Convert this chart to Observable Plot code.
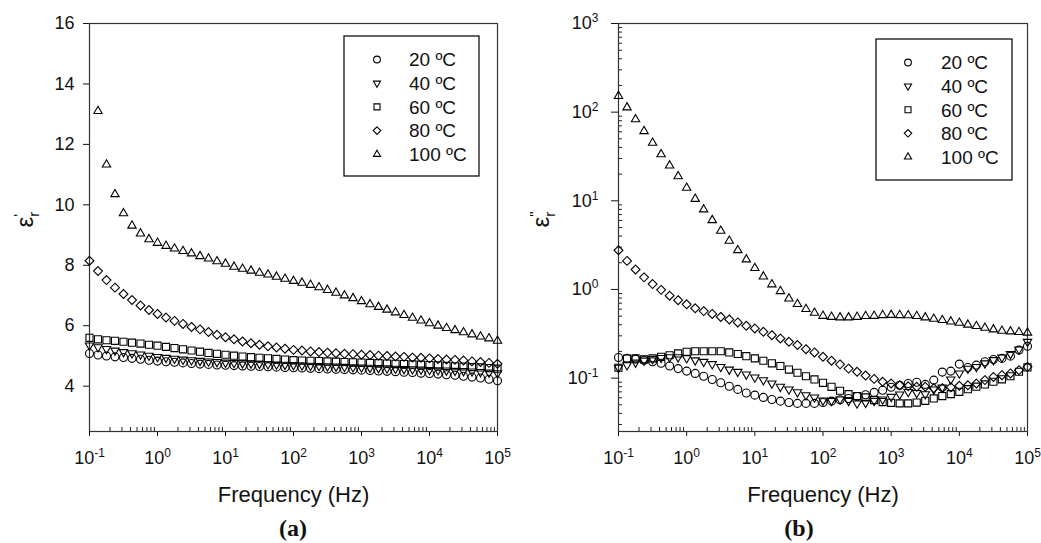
<!DOCTYPE html>
<html><head><meta charset="utf-8">
<script src="https://cdn.jsdelivr.net/npm/d3@7"></script>
<script src="https://cdn.jsdelivr.net/npm/@observablehq/plot@0.6"></script>
<style>
body{margin:0;background:#fff;}
#wrap{position:relative;width:1041px;height:543px;overflow:hidden;background:#fff;}
.panel{position:absolute;top:0;}
.panel svg{overflow:visible;}
.cap{position:absolute;font-family:"Liberation Serif","DejaVu Serif",serif;font-weight:bold;font-size:24px;line-height:1;transform:translateX(-50%);color:#111;}
</style></head><body>
<div id="wrap">
  <div id="pa" class="panel" style="left:0"></div>
  <div id="pb" class="panel" style="left:520px"></div>
  <div class="cap" style="left:293px;top:516px">(a)</div>
  <div class="cap" style="left:799px;top:516px">(b)</div>
</div>
<script>
// ---------- data ----------
const frequency = [0.1, 0.1334, 0.1778, 0.2371, 0.3162, 0.4217, 0.5623, 0.7499,
  1, 1.334, 1.778, 2.371, 3.162, 4.217, 5.623, 7.499,
  10, 13.34, 17.78, 23.71, 31.62, 42.17, 56.23, 74.99,
  100, 133.4, 177.8, 237.1, 316.2, 421.7, 562.3, 749.9,
  1000, 1334, 1778, 2371, 3162, 4217, 5623, 7499,
  10000, 13340, 17780, 23710, 31620, 42170, 56230, 74990, 100000];

const temperatures = ["20 ºC", "40 ºC", "60 ºC", "80 ºC", "100 ºC"];

// (a) real permittivity
const epsReal20 = [5.08, 5.03, 5.00, 4.97, 4.95, 4.92, 4.89, 4.86, 4.83, 4.81, 4.79, 4.77, 4.75, 4.73, 4.72, 4.70,
  4.69, 4.68, 4.67, 4.66, 4.65, 4.64, 4.63, 4.62, 4.61, 4.60, 4.59, 4.58, 4.57, 4.56, 4.55, 4.54,
  4.53, 4.52, 4.50, 4.49, 4.48, 4.46, 4.45, 4.43, 4.42, 4.40, 4.38, 4.36, 4.33, 4.30, 4.27, 4.23, 4.18];
const epsReal40 = [5.35, 5.29, 5.23, 5.18, 5.13, 5.09, 5.05, 5.01, 4.97, 4.94, 4.91, 4.88, 4.86, 4.84, 4.82, 4.80,
  4.78, 4.77, 4.76, 4.75, 4.74, 4.73, 4.72, 4.71, 4.70, 4.69, 4.68, 4.67, 4.66, 4.65, 4.64, 4.63,
  4.62, 4.61, 4.60, 4.59, 4.58, 4.57, 4.56, 4.55, 4.54, 4.53, 4.52, 4.51, 4.50, 4.49, 4.47, 4.45, 4.43];
const epsReal60 = [5.60, 5.55, 5.52, 5.50, 5.47, 5.44, 5.41, 5.37, 5.34, 5.30, 5.26, 5.22, 5.18, 5.14, 5.10, 5.07,
  5.04, 5.01, 4.98, 4.96, 4.94, 4.92, 4.90, 4.88, 4.86, 4.85, 4.84, 4.83, 4.82, 4.81, 4.80, 4.79,
  4.78, 4.77, 4.76, 4.75, 4.74, 4.73, 4.72, 4.71, 4.70, 4.69, 4.67, 4.66, 4.65, 4.63, 4.62, 4.60, 4.58];
const epsReal80 = [8.15, 7.81, 7.51, 7.26, 7.05, 6.85, 6.67, 6.52, 6.39, 6.27, 6.16, 6.06, 5.96, 5.88, 5.79, 5.70,
  5.62, 5.55, 5.48, 5.42, 5.37, 5.32, 5.28, 5.24, 5.20, 5.18, 5.15, 5.13, 5.11, 5.09, 5.07, 5.06,
  5.04, 5.03, 5.01, 5.00, 4.98, 4.97, 4.95, 4.94, 4.92, 4.90, 4.88, 4.87, 4.85, 4.82, 4.80, 4.77, 4.74];
const epsReal100 = [null, 13.1, 11.33, 10.35, 9.72, 9.31, 9.05, 8.86, 8.74, 8.64, 8.55, 8.47, 8.39, 8.30, 8.22, 8.13,
  8.05, 7.95, 7.88, 7.82, 7.75, 7.69, 7.62, 7.55, 7.48, 7.42, 7.35, 7.27, 7.18, 7.09, 7.00, 6.91,
  6.81, 6.71, 6.62, 6.53, 6.44, 6.35, 6.26, 6.17, 6.08, 6.00, 5.92, 5.85, 5.78, 5.71, 5.64, 5.58, 5.50];

// (b) imaginary permittivity
const epsImag20 = [0.171, 0.167, 0.164, 0.159, 0.153, 0.147, 0.137, 0.128, 0.120, 0.113, 0.105, 0.0966, 0.0886, 0.081, 0.0746, 0.068,
  0.0643, 0.0606, 0.0575, 0.055, 0.053, 0.0519, 0.0519, 0.0519, 0.053, 0.055, 0.057, 0.059, 0.062, 0.065, 0.069, 0.073,
  0.079, 0.083, 0.087, 0.090, 0.085, 0.095, 0.117, 0.120, 0.144, 0.132, 0.140, 0.153, 0.162, 0.167, 0.177, 0.207, 0.229];
const epsImag40 = [0.131, 0.140, 0.150, 0.158, 0.164, 0.169, 0.172, 0.172, 0.168, 0.159, 0.153, 0.144, 0.134, 0.125, 0.118, 0.110,
  0.102, 0.095, 0.087, 0.080, 0.0746, 0.0695, 0.0643, 0.0606, 0.056, 0.0555, 0.0575, 0.0555, 0.0519, 0.0527, 0.0555, 0.0575,
  0.0615, 0.0655, 0.070, 0.068, 0.066, 0.0746, 0.0786, 0.0966, 0.113, 0.128, 0.134, 0.147, 0.160, 0.171, 0.187, 0.211, 0.257];
const epsImag60 = [0.131, 0.166, 0.167, 0.163, 0.167, 0.174, 0.181, 0.190, 0.198, 0.201, 0.201, 0.201, 0.201, 0.195, 0.187, 0.177,
  0.167, 0.157, 0.147, 0.137, 0.125, 0.115, 0.105, 0.0966, 0.0886, 0.0798, 0.072, 0.066, 0.0627, 0.0606, 0.0565, 0.0537,
  0.0527, 0.0519, 0.0519, 0.053, 0.0555, 0.059, 0.0627, 0.066, 0.070, 0.075, 0.080, 0.085, 0.091, 0.097, 0.105, 0.118, 0.132];
const epsImag80 = [2.77, 2.10, 1.68, 1.37, 1.15, 0.99, 0.85, 0.757, 0.68, 0.613, 0.57, 0.53, 0.49, 0.459, 0.425, 0.389,
  0.363, 0.333, 0.305, 0.28, 0.257, 0.236, 0.212, 0.195, 0.174, 0.157, 0.143, 0.128, 0.118, 0.107, 0.098, 0.091,
  0.087, 0.083, 0.081, 0.080, 0.080, 0.077, 0.077, 0.079, 0.082, 0.083, 0.087, 0.095, 0.103, 0.108, 0.113, 0.123, 0.134];
const epsImag100 = [152, 113, 83, 61, 45, 33.5, 25, 18.9, 14.0, 10.5, 7.98, 6.04, 4.58, 3.53, 2.77, 2.18,
  1.74, 1.40, 1.14, 0.957, 0.79, 0.683, 0.60, 0.545, 0.503, 0.49, 0.483, 0.483, 0.49, 0.50, 0.503, 0.513,
  0.516, 0.513, 0.51, 0.50, 0.483, 0.466, 0.451, 0.435, 0.42, 0.40, 0.386, 0.369, 0.354, 0.341, 0.336, 0.33, 0.325];

const yTicksA = [4, 6, 8, 10, 12, 14, 16];
const xTicks = [0.1, 1, 10, 100, 1000, 10000, 100000];
const yTicksB = [0.1, 1, 10, 100, 1000];

// ---------- symbols ----------
const triDown = {draw(ctx, size) {
  const s = Math.sqrt(size) * 0.6824, t = s / 2, u = s * Math.sqrt(3) / 2;
  ctx.moveTo(0, s); ctx.lineTo(u, -t); ctx.lineTo(-u, -t); ctx.closePath();
}};
const symbols = [d3.symbolCircle, triDown, d3.symbolSquare, d3.symbolDiamond2, d3.symbolTriangle2];

const ns = "http://www.w3.org/2000/svg";
const fmtPow = d => "10^" + Math.round(Math.log10(d));

function rows(arr) {
  return frequency.map((f, i) => ({f, v: arr[i]})).filter(d => d.v != null);
}

function minorLog(lo, hi) {
  const out = [];
  for (let e = lo; e <= hi; e++) for (let m = 2; m < 10; m++) out.push(+(m * Math.pow(10, e)).toPrecision(6));
  return out;
}

function postProcess(svg, yLabel, legend) {
  svg.querySelectorAll("text").forEach(t => {
    const s = t.textContent;
    const m = /^10\^(-?\d+)$/.exec(s);
    if (m) {
      t.textContent = "";
      const a = document.createElementNS(ns, "tspan"); a.textContent = "10"; t.appendChild(a);
      const b = document.createElementNS(ns, "tspan"); b.textContent = m[1];
      b.setAttribute("dy", "-7"); b.setAttribute("font-size", "12"); t.appendChild(b);
    } else if (s === yLabel) {
      t.textContent = "";
      const a = document.createElementNS(ns, "tspan"); a.textContent = "ε"; t.appendChild(a);
      const b = document.createElementNS(ns, "tspan"); b.textContent = "r";
      b.setAttribute("dy", "6"); b.setAttribute("font-size", "15"); t.appendChild(b);
      const c = document.createElementNS(ns, "tspan"); c.textContent = yLabel.slice(2);
      c.setAttribute("dy", "-15"); c.setAttribute("dx", "-5"); c.setAttribute("font-size", "15"); t.appendChild(c);
    }
  });
  // legend box
  const g = d3.select(svg).append("g").attr("text-anchor", "start");
  g.append("rect").attr("x", legend.x).attr("y", legend.y).attr("width", legend.w).attr("height", legend.h)
    .attr("fill", "#fff").attr("stroke", "#111").attr("stroke-width", 1.3);
  temperatures.forEach((t, i) => {
    const cy = legend.row0 + i * legend.dy;
    g.append("path").attr("d", d3.symbol(symbols[i], 36)())
      .attr("transform", `translate(${legend.sx},${cy})`)
      .attr("fill", "none").attr("stroke", "#000").attr("stroke-width", 1.1);
    g.append("text").attr("x", legend.tx).attr("y", cy).attr("dy", "0.36em")
      .attr("text-anchor", "start").attr("font-size", 19).attr("fill", "#111").text(t);
  });
}

const style = {fontFamily: "'Liberation Sans', Arial, sans-serif", fontSize: "18px", color: "#111", background: "#fff", overflow: "visible"};
const dotOpts = {x: "f", y: "v", r: 4, fill: "none", stroke: "#000", strokeWidth: 1.1};

// ---------- panel (a) ----------
{
  const W = 520, H = 510, mt = 23, mb = 79, ml = 89, mr = 23;
  const innerH = H - mt - mb;
  const series = [epsReal20, epsReal40, epsReal60, epsReal80, epsReal100];
  const svg = Plot.plot({
    width: W, height: H, marginTop: mt, marginBottom: mb, marginLeft: ml, marginRight: mr,
    style,
    x: {type: "log", domain: [0.1, 1e5]},
    y: {domain: [2.5, 16]},
    marks: [
      Plot.tickX(minorLog(-1, 4), {x: d => d, insetTop: innerH - 4, stroke: "#222"}),
      Plot.axisX(xTicks, {tickSize: 5, tickPadding: 15, tickFormat: fmtPow, label: null}),
      Plot.axisY(yTicksA, {tickSize: 6, tickPadding: 9, label: null}),
      Plot.frame({stroke: "#333", strokeWidth: 1.2}),
      ...series.map((s, i) => Plot.dot(rows(s), {...dotOpts, symbol: symbols[i]})),
      Plot.text(["Frequency (Hz)"], {text: d => d, frameAnchor: "bottom", lineAnchor: "top", dy: 55, fontSize: 22, fill: "#111"}),
      Plot.text(["εr'"], {text: d => d, frameAnchor: "left", rotate: -90, dx: -64, fontSize: 24, fill: "#111"})
    ]
  });
  document.getElementById("pa").appendChild(svg);
  postProcess(svg, "εr'", {x: 344, y: 36, w: 135, h: 140, sx: 377, tx: 409, row0: 59.5, dy: 23.7});
}

// ---------- panel (b) ----------
{
  const W = 521, H = 510, mt = 23, mb = 79, ml = 98, mr = 14;
  const innerH = H - mt - mb, innerW = W - ml - mr;
  const series = [epsImag20, epsImag40, epsImag60, epsImag80, epsImag100];
  const svg = Plot.plot({
    width: W, height: H, marginTop: mt, marginBottom: mb, marginLeft: ml, marginRight: mr,
    style,
    x: {type: "log", domain: [0.1, 1e5]},
    y: {type: "log", domain: [0.025, 1000]},
    marks: [
      Plot.tickX(minorLog(-1, 4), {x: d => d, insetTop: innerH - 4, stroke: "#222"}),
      Plot.tickY(minorLog(-2, 2).filter(d => d >= 0.025), {y: d => d, insetRight: innerW - 4, stroke: "#222"}),
      Plot.axisX(xTicks, {tickSize: 5, tickPadding: 15, tickFormat: fmtPow, label: null}),
      Plot.axisY(yTicksB, {tickSize: 7, tickPadding: 13, tickFormat: fmtPow, label: null}),
      Plot.frame({stroke: "#333", strokeWidth: 1.2}),
      ...series.map((s, i) => Plot.dot(rows(s), {...dotOpts, symbol: symbols[i]})),
      Plot.text(["Frequency (Hz)"], {text: d => d, frameAnchor: "bottom", lineAnchor: "top", dy: 55, fontSize: 22, fill: "#111"}),
      Plot.text(["εr\""], {text: d => d, frameAnchor: "left", rotate: -90, dx: -77, fontSize: 24, fill: "#111"})
    ]
  });
  document.getElementById("pb").appendChild(svg);
  postProcess(svg, "εr\"", {x: 356, y: 39, w: 136, h: 141, sx: 388, tx: 421, row0: 62.5, dy: 23.6});
}
</script>
</body></html>
